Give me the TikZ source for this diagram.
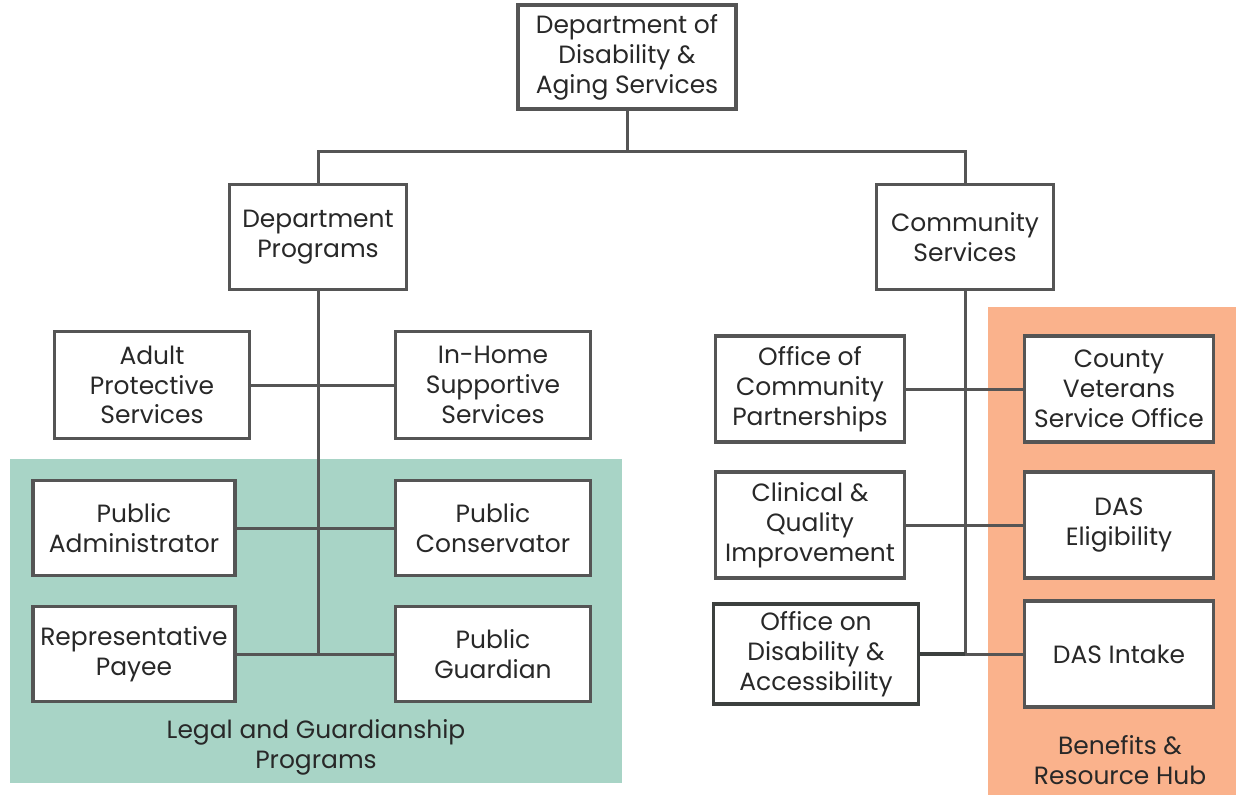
\documentclass[tikz,border=0pt]{standalone}
\usepackage{fontspec}
\setmainfont{Poppins}
\definecolor{boxline}{RGB}{85,85,85}
\definecolor{darkline}{RGB}{60,64,62}
\definecolor{legal}{RGB}{168,212,198}
\definecolor{hub}{RGB}{250,178,140}
\definecolor{txt}{RGB}{40,40,40}

\begin{document}
\begin{tikzpicture}[x=0.02cm, y=-0.02cm]
  \tikzset{
    font={\fontsize{14.2pt}{17pt}\selectfont},
    unit/.style={draw=boxline, line width=0.075cm, fill=white, align=center,
      inner sep=0pt, text=txt},
    link/.style={draw=boxline, line width=0.06cm},
    grouplabel/.style={align=center, text=txt},
  }
  \useasboundingbox (0,0) rectangle (1236,795);

  % group backgrounds
  \fill[legal] (10,459) rectangle (622,783);
  \fill[hub] (988,307) rectangle (1236,795);
  \node[grouplabel] (legallabel) at (316,747) {Legal and Guardianship\\Programs};
  \node[grouplabel] (hublabel) at (1120,760) {Benefits \&\\Resource Hub};

  % top level
  \node[unit, minimum width=4.36cm, minimum height=2.08cm] (das) at (627,57)
    {Department of\\Disability \&\\Aging Services};
  \node[unit, minimum width=3.54cm, minimum height=2.1cm] (deptprog) at (318,237)
    {Department\\Programs};
  \node[unit, minimum width=3.54cm, minimum height=2.1cm] (commserv) at (965,237)
    {Community\\Services};
  \coordinate (topbar) at (627,151);

  % department programs
  \node[unit, minimum width=3.9cm, minimum height=2.14cm] (aps) at (152,385)
    {Adult\\Protective\\Services};
  \node[unit, minimum width=3.9cm, minimum height=2.14cm] (ihss) at (493,385)
    {In-Home\\Supportive\\Services};
  \node[unit, minimum width=4.04cm, minimum height=1.9cm] (pubadmin) at (134,528)
    {Public\\Administrator};
  \node[unit, minimum width=3.9cm, minimum height=1.9cm] (pubcons) at (493,528)
    {Public\\Conservator};
  \node[unit, minimum width=4.04cm, minimum height=1.9cm] (repayee) at (134,654)
    {Representative\\Payee};
  \node[unit, minimum width=3.9cm, minimum height=1.9cm] (pubguard) at (493,654)
    {Public\\Guardian};
  \coordinate (deptend) at (318,654);

  % community services
  \node[unit, minimum width=3.78cm, minimum height=2.12cm] (ocp) at (810,389)
    {Office of\\Community\\Partnerships};
  \node[unit, minimum width=3.78cm, minimum height=2.12cm] (cvso) at (1119,389)
    {County\\Veterans\\Service Office};
  \node[unit, minimum width=3.78cm, minimum height=2.12cm] (cqi) at (810,525)
    {Clinical \&\\Quality\\Improvement};
  \node[unit, minimum width=3.78cm, minimum height=2.12cm] (dasel) at (1119,525)
    {DAS\\Eligibility};
  \node[unit, draw=darkline, minimum width=4.1cm, minimum height=2.0cm] (oda) at (816,654)
    {Office on\\Disability \&\\Accessibility};
  \node[unit, minimum width=3.78cm, minimum height=2.12cm] (dasintake) at (1119,654)
    {DAS Intake};
  \coordinate (commend) at (965,654);

  % connectors
  \draw[link] (das) -- (topbar);
  \draw[link] (deptprog.north) |- (topbar);
  \draw[link] (commserv.north) |- (topbar);

  \draw[link] (deptprog.south) -- (deptend);
  \draw[link] (aps.east) -- (ihss.west);
  \draw[link] (pubadmin.east) -- (pubcons.west);
  \draw[link] (repayee.east) -- (pubguard.west);

  \draw[link] (commserv.south) -- (commend);
  \draw[link] (ocp.east) -- (cvso.west);
  \draw[link] (cqi.east) -- (dasel.west);
  \draw[link] (commend) -- (dasintake.west);
  \draw[link, draw=darkline, line width=0.08cm] (oda.east) -- (commend);
\end{tikzpicture}
\end{document}
